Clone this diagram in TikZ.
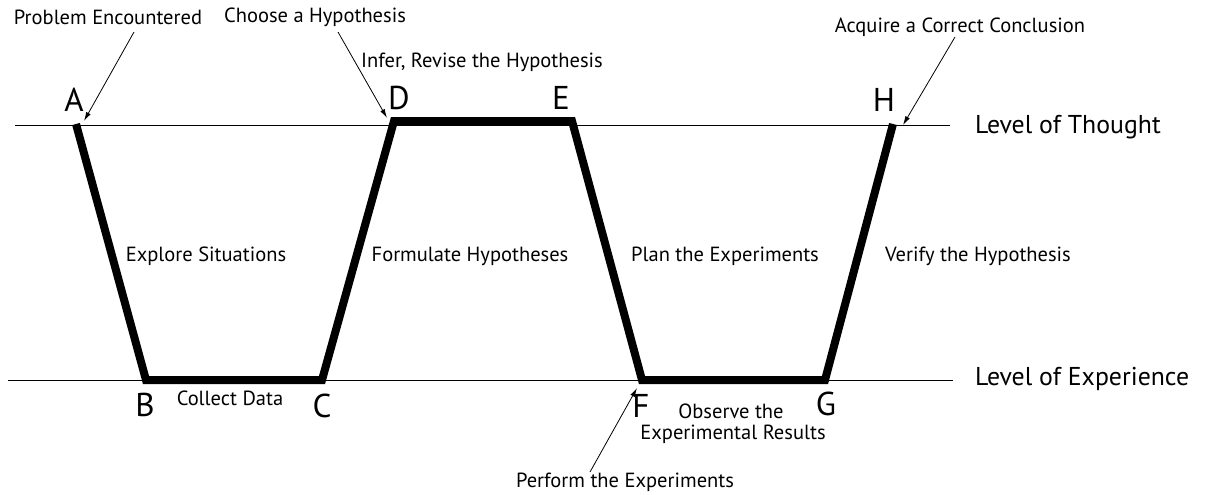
\documentclass[tikz,border=0pt]{standalone}
\usepackage{fontspec}
\setmainfont{PT Sans}
\usetikzlibrary{arrows.meta}
\begin{document}
\begin{tikzpicture}[x=1pt,y=-1pt,
  lbl/.style={inner sep=0pt, font=\fontsize{20.5}{24}\selectfont},
  big/.style={inner sep=0pt, font=\fontsize{33}{36}\selectfont},
  lvl/.style={inner sep=0pt, anchor=west, font=\fontsize{25.8}{30}\selectfont},
  ptr/.style={-{Latex[length=9pt,width=5pt]}, line width=0.8pt},
  thick path/.style={line width=8pt, line join=miter, line cap=butt}]
\useasboundingbox (0,0) rectangle (1207,495);
% level lines
\coordinate (t0) at (15,125);
\coordinate (t1) at (950,125);
\coordinate (e0) at (8,380);
\coordinate (e1) at (953,380);
\draw[line width=1pt] (t0) -- (t1);
\draw[line width=1pt] (e0) -- (e1);
% corners
\coordinate (pA) at (76,124);
\coordinate (pB) at (146,380);
\coordinate (pC) at (322,380);
\coordinate (pD) at (394,121);
\coordinate (pE) at (572,121);
\coordinate (pF) at (642,380);
\coordinate (pG) at (825,380);
\coordinate (pH) at (893,124);
\draw[thick path] (pA) -- (pB) -- (pC) -- (pD) -- (pE) -- (pF) -- (pG) -- (pH);
% letters
\node[big] (A) at (74,100) {A};
\node[big] (D) at (399,98) {D};
\node[big] (E) at (561,98) {E};
\node[big] (H) at (884,100) {H};
\node[big] (B) at (145,405) {B};
\node[big] (C) at (322,406) {C};
\node[big] (F) at (641,406) {F};
\node[big] (G) at (826,404) {G};
% level labels
\node[lvl] (lt) at (975,127) {Level of Thought};
\node[lvl] (le) at (975,379) {Level of Experience};
% segment labels
\node[lbl] (s1) at (206,256) {Explore Situations};
\node[lbl] (s2) at (470,256) {Formulate Hypotheses};
\node[lbl] (s3) at (725,256) {Plan the Experiments};
\node[lbl] (s4) at (978,256) {Verify the Hypothesis};
\node[lbl] (s5) at (230,398) {Collect Data};
\node[lbl] (s6) at (731,411) {Observe the};
\node[lbl] (s7) at (733,434) {Experimental Results};
\node[lbl] (s8) at (482,62) {Infer, Revise the Hypothesis};
% annotated events
\node[lbl] (n1) at (108,17) {Problem Encountered};
\node[lbl] (n2) at (315,17) {Choose a Hypothesis};
\node[lbl] (n3) at (960,27) {Acquire a Correct Conclusion};
\node[lbl] (n4) at (625,482) {Perform the Experiments};
\coordinate (a1) at (84,121);
\coordinate (a2) at (387,118);
\coordinate (a3) at (903,125);
\coordinate (a4) at (637,388);
\draw[ptr] (134,32) -- (a1);
\draw[ptr] (338,32) -- (a2);
\draw[ptr] (955,37) -- (a3);
\draw[ptr] (590,472) -- (a4);
\end{tikzpicture}
\end{document}
